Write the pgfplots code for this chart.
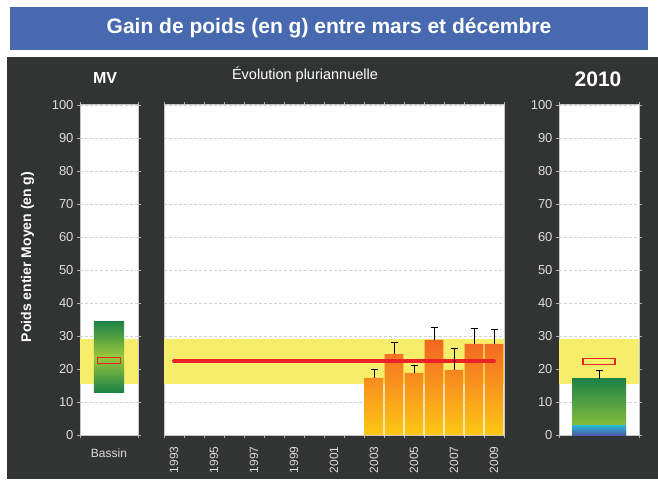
\documentclass[border=0pt]{standalone}
\usepackage{fontspec}
\setmainfont{Liberation Sans}
\usepackage{pgfplots}
\pgfplotsset{compat=1.18}

\definecolor{bgdark}{RGB}{50,52,51}
\definecolor{titleblue}{RGB}{70,105,176}
\definecolor{band}{RGB}{246,237,106}
\definecolor{orangetop}{RGB}{242,102,36}
\definecolor{yellowbot}{RGB}{253,200,20}
\definecolor{gdark}{RGB}{28,130,70}
\definecolor{glight}{RGB}{155,200,60}
\definecolor{bcyan}{RGB}{40,185,215}
\definecolor{bblue}{RGB}{75,90,168}
\definecolor{meanred}{RGB}{235,35,40}
\definecolor{ticklbl}{RGB}{220,220,220}

\pgfplotsset{
  panel/.style={
    scale only axis, height=330pt, anchor=south west,
    ymin=0, ymax=100, ytick={0,10,...,100},
    ymajorgrids, grid style={densely dashed, gray!35},
    axis background/.style={fill=white},
    axis line style={draw=gray!45, line width=1pt},
    tick style={draw=gray!60},
    tick align=outside, major tick length=3pt, minor tick length=3pt,
    ticklabel style={font=\fontsize{13}{15}\selectfont, text=ticklbl},
    /pgf/number format/assume math mode=true,
  },
  meanbox/.style={draw=meanred, line width=1.2pt},
  errs/.style={draw=none, mark=none,
    error bars/.cd, y dir=plus, y explicit,
    error bar style={draw=black, line width=0.9pt},
    error mark=-,
    error mark options={rotate=90, draw=black, line width=0.9pt, mark size=3.5pt}},
}

\begin{document}
\begin{tikzpicture}[x=1pt,y=1pt]
% decor
\fill[white] (0,0) rectangle (658,479);
\fill[titleblue] (10,429) rectangle (648,472);
\fill[bgdark] (7,0) rectangle (658,422);
\node[font=\bfseries\fontsize{21}{24}\selectfont, white] at (329,450.5) {Gain de poids (en g) entre mars et décembre};
\node[font=\bfseries\fontsize{16}{18}\selectfont, white] at (105,401) {MV};
\node[font=\bfseries\fontsize{21}{24}\selectfont, white] at (598,400) {2010};
\node[font=\fontsize{14.5}{16}\selectfont, white] at (305,404) {Évolution pluriannuelle};
\node[font=\bfseries\fontsize{14}{16}\selectfont, white, rotate=90] at (27.5,222) {Poids entier Moyen (en g)};

% basin (MV)
\begin{axis}[panel, at={(80pt,44pt)}, width=58pt,
  xmin=-1, xmax=1, xtick={-1,1}, xticklabels={},
  extra x ticks={0}, extra x tick labels={Bassin},
  extra x tick style={major tick length=0pt, grid=none,
    xticklabel shift=10pt,
    xticklabel style={font=\fontsize{12}{14}\selectfont}}]
\addplot[fill=band, draw=none] coordinates {(-1,15.5) (1,15.5) (1,29) (-1,29)} -- cycle;
\addplot[draw=none, top color=gdark, bottom color=gdark, middle color=glight]
  coordinates {(-0.52,13) (0.52,13) (0.52,34.5) (-0.52,34.5)} -- cycle;
\addplot[meanbox] coordinates {(-0.41,21.6) (0.41,21.6) (0.41,23.4) (-0.41,23.4)} -- cycle;
\end{axis}

% multi-year
\begin{axis}[panel, at={(164pt,44pt)}, width=340pt,
  xmin=1992.5, xmax=2009.5,
  yticklabels={}, ytick style={draw=none},
  xtick={1993,1995,...,2009},
  xticklabels={1993,1995,1997,1999,2001,2003,2005,2007,2009},
  major tick length=0pt,
  minor xtick={1992.5,1993.5,...,2009.5},
  xticklabel style={rotate=90, anchor=east, font=\fontsize{12}{14}\selectfont},
  xticklabel shift=8pt]
\addplot[fill=band, draw=none] coordinates {(1992.5,15.5) (2009.5,15.5) (2009.5,29) (1992.5,29)} -- cycle;
\addplot[ybar, bar width=0.94, draw=none, top color=orangetop, bottom color=yellowbot]
  coordinates {(2003,17.3) (2004,24.5) (2005,18.8) (2006,28.8) (2007,19.7) (2008,27.6) (2009,27.6)};
\addplot[meanred, line width=4pt, line cap=round] coordinates {(1993,22.4) (2009,22.4)};
\addplot[errs]
  coordinates {(2003,17.3) +- (0,2.6) (2004,24.5) +- (0,3.5) (2005,18.8) +- (0,2.3)
               (2006,28.8) +- (0,3.8) (2007,19.7) +- (0,6.5) (2008,27.6) +- (0,4.6)
               (2009,27.6) +- (0,4.3)};
\end{axis}

% 2010
\begin{axis}[panel, at={(559pt,44pt)}, width=80pt,
  xmin=-1, xmax=1, xtick={-1,1}, xticklabels={}]
\addplot[fill=band, draw=none] coordinates {(-1,15.5) (1,15.5) (1,29) (-1,29)} -- cycle;
\addplot[ybar, bar width=1.35, draw=none, top color=gdark, bottom color=glight] coordinates {(0,17)};
\addplot[ybar, bar width=1.35, draw=none, top color=bcyan, bottom color=bblue] coordinates {(0,3)};
\addplot[meanbox] coordinates {(-0.4,21.4) (0.4,21.4) (0.4,23.2) (-0.4,23.2)} -- cycle;
\addplot[errs] coordinates {(0,17) +- (0,2.6)};
\end{axis}
\end{tikzpicture}
\end{document}
